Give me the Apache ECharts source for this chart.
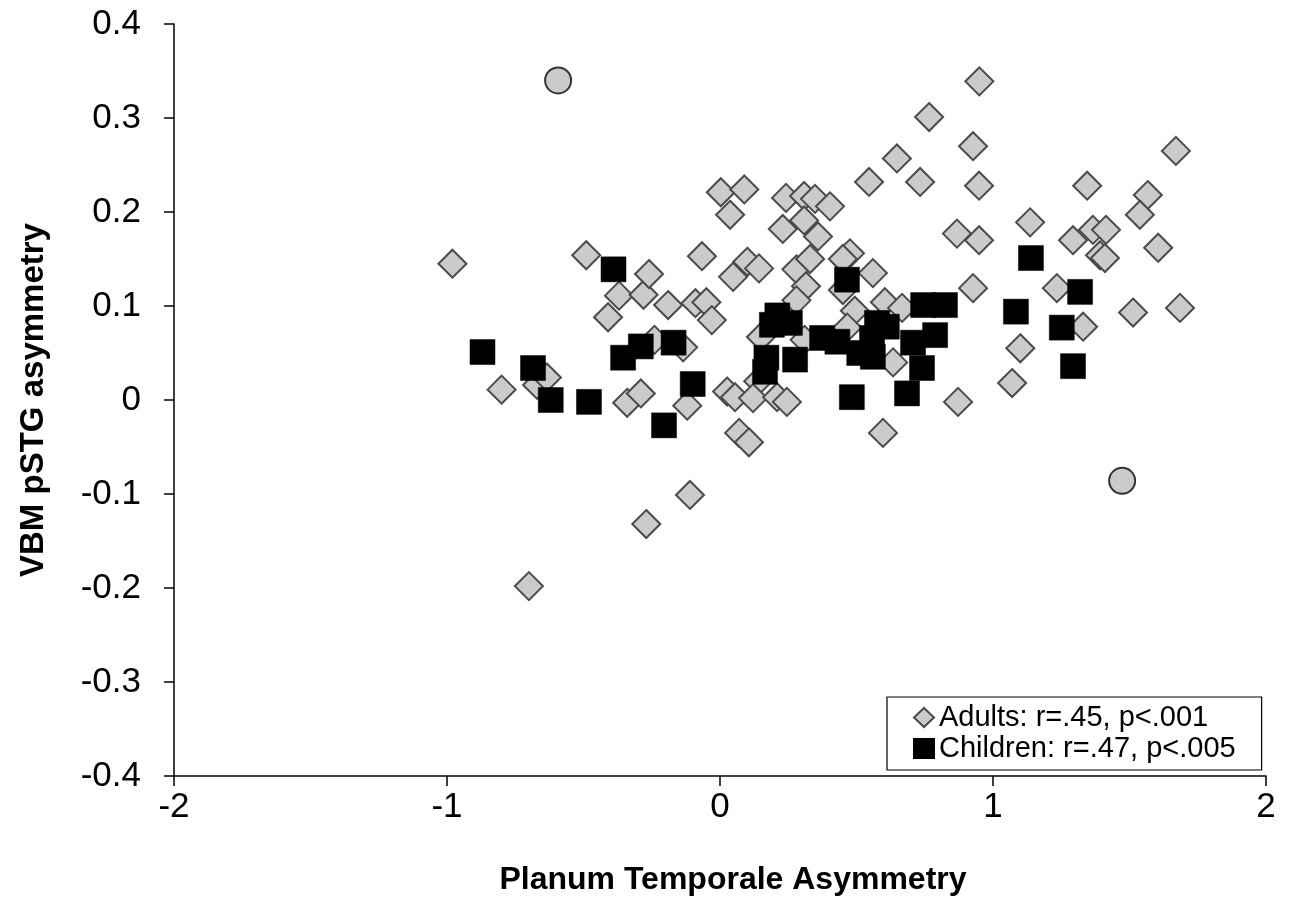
<!DOCTYPE html>
<html>
<head>
<meta charset="utf-8">
<script src="https://cdn.jsdelivr.net/npm/echarts@6/dist/echarts.min.js"></script>
<style>
  html, body { margin: 0; padding: 0; background: #fff; }
  #chart { width: 1290px; height: 903px; }
</style>
</head>
<body>
<div id="chart"></div>
<script>
// adults (grey diamonds)
const adults = [
  [-0.98, 0.145], [-0.49, 0.154], [-0.41, 0.088], [-0.37, 0.111], [-0.28, 0.112],
  [-0.26, 0.134], [-0.24, 0.064], [-0.19, 0.101], [-0.135, 0.056], [-0.09, 0.103],
  [-0.05, 0.104], [-0.03, 0.085], [-0.066, 0.153], [0.037, 0.197], [0.048, 0.131],
  [-0.80, 0.011], [-0.67, 0.016], [-0.634, 0.024], [-0.34, -0.003], [-0.29, 0.007],
  [-0.12, -0.006], [0.026, 0.009], [0.055, 0.003], [0.07, -0.035], [0.106, -0.045],
  [-0.70, -0.198], [-0.27, -0.132], [-0.11, -0.101],
  [0.95, 0.339], [0.766, 0.301], [0.927, 0.270], [0.648, 0.257], [0.546, 0.232],
  [0.733, 0.232], [0.949, 0.228], [0.003, 0.221], [0.089, 0.224], [0.242, 0.215],
  [0.308, 0.217], [0.348, 0.214], [0.403, 0.206], [0.23, 0.182], [0.308, 0.191],
  [0.359, 0.174], [0.868, 0.177], [0.949, 0.170], [0.10, 0.147], [0.143, 0.140],
  [0.28, 0.139], [0.33, 0.15], [0.476, 0.156], [0.45, 0.15], [0.56, 0.135],
  [0.315, 0.121], [0.45, 0.117], [0.927, 0.119], [0.28, 0.106], [0.604, 0.104],
  [0.667, 0.098], [0.494, 0.095], [0.15, 0.067], [0.31, 0.064], [0.466, 0.077],
  [0.634, 0.04], [0.14, 0.02], [0.121, 0.002], [0.209, 0.003], [0.245, -0.002],
  [0.597, -0.035], [0.872, -0.002], [1.07, 0.018], [1.1, 0.055],
  [1.67, 0.265], [1.345, 0.228], [1.567, 0.218], [1.538, 0.197], [1.136, 0.189],
  [1.293, 0.170], [1.366, 0.181], [1.414, 0.181], [1.392, 0.154], [1.41, 0.151],
  [1.605, 0.162], [1.234, 0.119], [1.513, 0.093], [1.685, 0.098], [1.33, 0.078]
]
// children (black squares)
const children = [
  [-0.87, 0.051], [-0.685, 0.034], [-0.62, 0.000], [-0.48, -0.002], [-0.39, 0.139],
  [-0.355, 0.045], [-0.29, 0.057], [-0.17, 0.061], [-0.10, 0.017], [-0.205, -0.027],
  [0.17, 0.045], [0.165, 0.03], [0.21, 0.090], [0.19, 0.080], [0.256, 0.082],
  [0.275, 0.043], [0.374, 0.066], [0.43, 0.062], [0.51, 0.050], [0.557, 0.066],
  [0.575, 0.082], [0.611, 0.078], [0.56, 0.046], [0.465, 0.128], [0.483, 0.003],
  [0.744, 0.101], [0.824, 0.101], [0.788, 0.069], [0.707, 0.061], [0.74, 0.034],
  [0.685, 0.007], [1.139, 0.151], [1.319, 0.115], [1.084, 0.094], [1.252, 0.077],
  [1.293, 0.036]
]
// circled points (no legend entry)
const outliers = [[-0.593, 0.340], [1.473, -0.086]]

const xTicks = { min: -2, max: 2, interval: 1 }
const yTicks = { min: -0.4, max: 0.4, interval: 0.1 }

const myChart = echarts.init(document.getElementById('chart'))
const axisFont = '"Liberation Sans", Arial, sans-serif'
const option = {
  animation: false,
  backgroundColor: '#fff',
  grid: { left: 174, right: 24, top: 24, bottom: 127 },
  legend: {
    data: ['Adults: r=.45, p<.001', 'Children: r=.47, p<.005'],
    orient: 'vertical',
    left: 887,
    top: 697,
    padding: [6, 26, 7, 26],
    itemWidth: 20,
    itemHeight: 19,
    itemGap: 2,
    borderColor: '#000',
    borderWidth: 1.2,
    textStyle: { fontSize: 29, color: '#000', fontFamily: axisFont }
  },
  xAxis: {
    type: 'value',
    min: xTicks.min,
    max: xTicks.max,
    interval: xTicks.interval,
    name: 'Planum Temporale Asymmetry',
    nameLocation: 'middle',
    nameGap: 88,
    nameTextStyle: { fontSize: 32, fontWeight: 'bold', color: '#000', fontFamily: axisFont, padding: [0, 0, 0, 26] },
    axisLine: { onZero: false, lineStyle: { color: '#000', width: 1.5 } },
    axisTick: { length: 10, lineStyle: { color: '#000', width: 1.5 } },
    axisLabel: { fontSize: 35, color: '#000', margin: 14, fontFamily: axisFont },
    splitLine: { show: false }
  },
  yAxis: {
    type: 'value',
    min: yTicks.min,
    max: yTicks.max,
    interval: yTicks.interval,
    name: 'VBM pSTG asymmetry',
    nameLocation: 'middle',
    nameGap: 124,
    nameTextStyle: { fontSize: 33, fontWeight: 'bold', color: '#000', fontFamily: axisFont },
    axisLine: { show: true, onZero: false, lineStyle: { color: '#000', width: 1.5 } },
    axisTick: { show: true, length: 10, lineStyle: { color: '#000', width: 1.5 } },
    axisLabel: {
      fontSize: 35, color: '#000', margin: 33, fontFamily: axisFont,
      formatter: (v) => (Math.abs(v) < 1e-9 ? '0' : (+v.toFixed(1)).toString())
    },
    splitLine: { show: false }
  },
  series: [
    {
      name: 'Adults: r=.45, p<.001',
      type: 'scatter',
      symbol: 'diamond',
      symbolSize: 28,
      data: adults,
      itemStyle: { color: '#cbcbcb', borderColor: '#4a4a4a', borderWidth: 2, opacity: 1 },
      z: 2
    },
    {
      name: 'Children: r=.47, p<.005',
      type: 'scatter',
      symbol: 'rect',
      symbolSize: 25,
      data: children,
      itemStyle: { color: '#000', borderColor: '#000', borderWidth: 0.5, opacity: 1 },
      z: 3
    },
    {
      name: 'outliers',
      type: 'scatter',
      symbol: 'circle',
      symbolSize: 26,
      data: outliers,
      itemStyle: { color: '#cbcbcb', borderColor: '#333', borderWidth: 2, opacity: 1 },
      z: 4
    }
  ]
}
myChart.setOption(option)
</script>
</body>
</html>
